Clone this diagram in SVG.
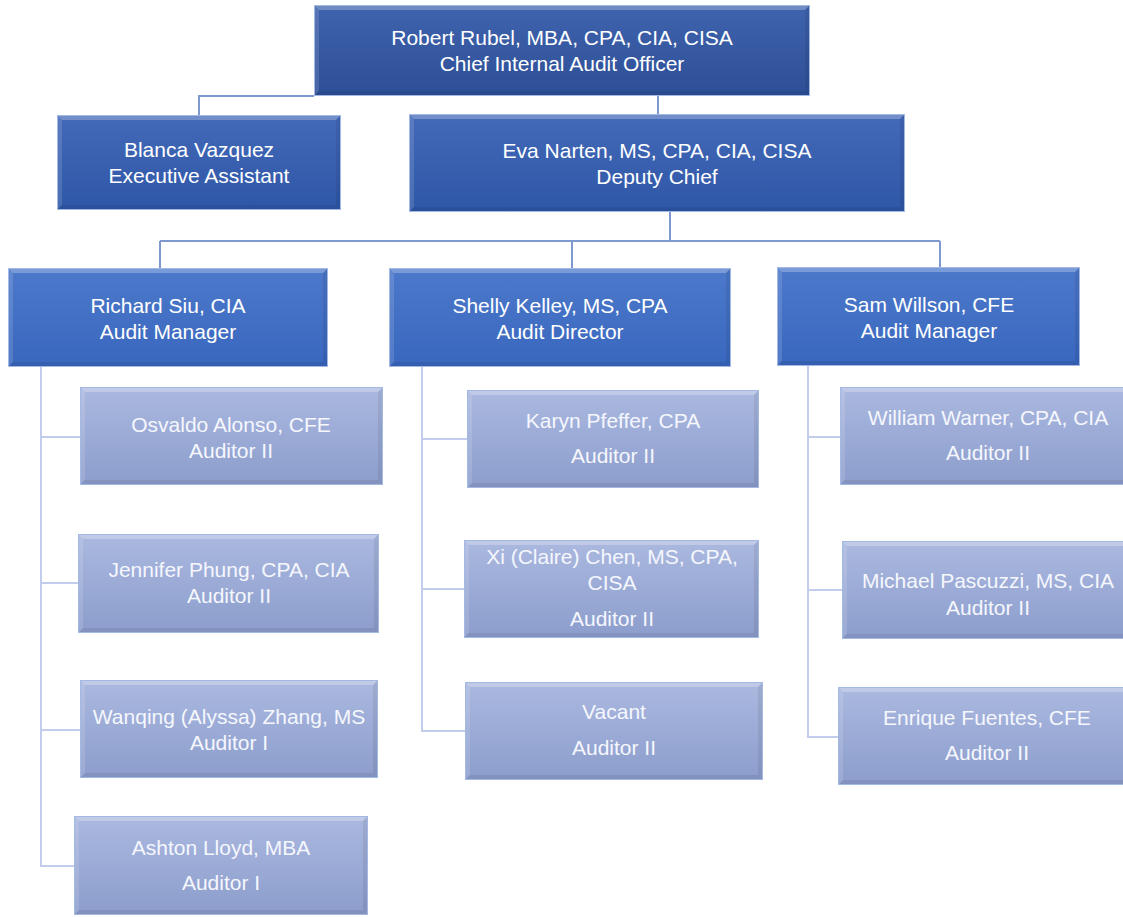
<svg xmlns="http://www.w3.org/2000/svg" width="1123" height="917" viewBox="0 0 1123 917">
<defs>
<linearGradient id="gCeo" x1="0" y1="0" x2="0" y2="1"><stop offset="0" stop-color="#4063AE"/><stop offset="1" stop-color="#2C4F96"/></linearGradient>
<linearGradient id="gEva" x1="0" y1="0" x2="0" y2="1"><stop offset="0" stop-color="#4369B8"/><stop offset="1" stop-color="#2F57A7"/></linearGradient>
<linearGradient id="gMgr" x1="0" y1="0" x2="0" y2="1"><stop offset="0" stop-color="#4C79CA"/><stop offset="1" stop-color="#3967BE"/></linearGradient>
<linearGradient id="gLight" x1="0" y1="0" x2="0" y2="1"><stop offset="0" stop-color="#ABB9E0"/><stop offset="1" stop-color="#8C9DCC"/></linearGradient>
<style>
.bt{fill:#FFFFFF;fill-opacity:0.26}
.bl{fill:#FFFFFF;fill-opacity:0.13}
.br{fill:#000000;fill-opacity:0.07}
.bb{fill:#000000;fill-opacity:0.07}
.edge{fill:none;stroke:#A4B8E4;stroke-width:1}
.ceo{fill:url(#gCeo)}
.eva{fill:url(#gEva)}
.mgr{fill:url(#gMgr)}
.lt{fill:url(#gLight)}
text{font-family:"Liberation Sans",Arial,sans-serif;font-size:21px;text-anchor:middle;fill:#FFFFFF}
.ltx{fill:#F5F7FD}
.c1{fill:none;stroke:#7F98D0;stroke-width:2}
.c2{fill:none;stroke:#C2CDEB;stroke-width:2}
</style>
</defs>
<rect width="1123" height="917" fill="#FFFFFF"/>

<g id="connectors">
<polyline class="c1" points="199,115 199,96 314,96"/>
<line class="c1" x1="658" y1="96" x2="658" y2="114"/>
<line class="c1" x1="670" y1="212" x2="670" y2="241"/>
<line class="c1" x1="160" y1="241" x2="940" y2="241"/>
<line class="c1" x1="160" y1="241" x2="160" y2="268"/>
<line class="c1" x1="572" y1="241" x2="572" y2="268"/>
<line class="c1" x1="940" y1="241" x2="940" y2="267"/>
<polyline class="c2" points="41,367 41,866 74,866"/>
<line class="c2" x1="41" y1="437" x2="80" y2="437"/>
<line class="c2" x1="41" y1="583" x2="78" y2="583"/>
<line class="c2" x1="41" y1="730" x2="80" y2="730"/>
<polyline class="c2" points="422,367 422,731 465,731"/>
<line class="c2" x1="422" y1="439" x2="467" y2="439"/>
<line class="c2" x1="422" y1="589" x2="464" y2="589"/>
<polyline class="c2" points="808,366 808,737 838,737"/>
<line class="c2" x1="808" y1="437" x2="840" y2="437"/>
<line class="c2" x1="808" y1="590" x2="842" y2="590"/>
</g>

<g id="node-rubel">
<rect class="ceo" x="314" y="5" width="496" height="91"/>
<polygon class="bt" points="314,5 810,5 805,10 319,10"/>
<polygon class="bl" points="314,5 319,10 319,91 314,96"/>
<polygon class="br" points="810,5 810,96 805,91 805,10"/>
<polygon class="bb" points="314,96 810,96 805,91 319,91"/>
<rect class="edge" x="314.5" y="5.5" width="495" height="90"/>
<text x="562" y="45">Robert Rubel, MBA, CPA, CIA, CISA</text>
<text x="562" y="71">Chief Internal Audit Officer</text>
</g>

<g id="node-vazquez">
<rect class="eva" x="57" y="115" width="284" height="95"/>
<polygon class="bt" points="57,115 341,115 336,120 62,120"/>
<polygon class="bl" points="57,115 62,120 62,205 57,210"/>
<polygon class="br" points="341,115 341,210 336,205 336,120"/>
<polygon class="bb" points="57,210 341,210 336,205 62,205"/>
<rect class="edge" x="57.5" y="115.5" width="283" height="94"/>
<text x="199" y="157">Blanca Vazquez</text>
<text x="199" y="183">Executive Assistant</text>
</g>

<g id="node-narten">
<rect class="eva" x="409" y="114" width="496" height="98"/>
<polygon class="bt" points="409,114 905,114 900,119 414,119"/>
<polygon class="bl" points="409,114 414,119 414,207 409,212"/>
<polygon class="br" points="905,114 905,212 900,207 900,119"/>
<polygon class="bb" points="409,212 905,212 900,207 414,207"/>
<rect class="edge" x="409.5" y="114.5" width="495" height="97"/>
<text x="657" y="158">Eva Narten, MS, CPA, CIA, CISA</text>
<text x="657" y="184">Deputy Chief</text>
</g>

<g id="node-siu">
<rect class="mgr" x="8" y="268" width="320" height="99"/>
<polygon class="bt" points="8,268 328,268 323,273 13,273"/>
<polygon class="bl" points="8,268 13,273 13,362 8,367"/>
<polygon class="br" points="328,268 328,367 323,362 323,273"/>
<polygon class="bb" points="8,367 328,367 323,362 13,362"/>
<rect class="edge" x="8.5" y="268.5" width="319" height="98"/>
<text x="168" y="313">Richard Siu, CIA</text>
<text x="168" y="339">Audit Manager</text>
</g>

<g id="node-kelley">
<rect class="mgr" x="389" y="268" width="342" height="99"/>
<polygon class="bt" points="389,268 731,268 726,273 394,273"/>
<polygon class="bl" points="389,268 394,273 394,362 389,367"/>
<polygon class="br" points="731,268 731,367 726,362 726,273"/>
<polygon class="bb" points="389,367 731,367 726,362 394,362"/>
<rect class="edge" x="389.5" y="268.5" width="341" height="98"/>
<text x="560" y="313">Shelly Kelley, MS, CPA</text>
<text x="560" y="339">Audit Director</text>
</g>

<g id="node-willson">
<rect class="mgr" x="777" y="267" width="303" height="99"/>
<polygon class="bt" points="777,267 1080,267 1075,272 782,272"/>
<polygon class="bl" points="777,267 782,272 782,361 777,366"/>
<polygon class="br" points="1080,267 1080,366 1075,361 1075,272"/>
<polygon class="bb" points="777,366 1080,366 1075,361 782,361"/>
<rect class="edge" x="777.5" y="267.5" width="302" height="98"/>
<text x="929" y="312">Sam Willson, CFE</text>
<text x="929" y="338">Audit Manager</text>
</g>

<g id="node-alonso">
<rect class="lt" x="80" y="387" width="303" height="98"/>
<polygon class="bt" points="80,387 383,387 378,392 85,392"/>
<polygon class="bl" points="80,387 85,392 85,480 80,485"/>
<polygon class="br" points="383,387 383,485 378,480 378,392"/>
<polygon class="bb" points="80,485 383,485 378,480 85,480"/>
<rect class="edge" x="80.5" y="387.5" width="302" height="97"/>
<text class="ltx" x="231" y="432">Osvaldo Alonso, CFE</text>
<text class="ltx" x="231" y="458">Auditor II</text>
</g>

<g id="node-phung">
<rect class="lt" x="78" y="534" width="301" height="99"/>
<polygon class="bt" points="78,534 379,534 374,539 83,539"/>
<polygon class="bl" points="78,534 83,539 83,628 78,633"/>
<polygon class="br" points="379,534 379,633 374,628 374,539"/>
<polygon class="bb" points="78,633 379,633 374,628 83,628"/>
<rect class="edge" x="78.5" y="534.5" width="300" height="98"/>
<text class="ltx" x="229" y="577">Jennifer Phung, CPA, CIA</text>
<text class="ltx" x="229" y="603">Auditor II</text>
</g>

<g id="node-zhang">
<rect class="lt" x="80" y="680" width="298" height="98"/>
<polygon class="bt" points="80,680 378,680 373,685 85,685"/>
<polygon class="bl" points="80,680 85,685 85,773 80,778"/>
<polygon class="br" points="378,680 378,778 373,773 373,685"/>
<polygon class="bb" points="80,778 378,778 373,773 85,773"/>
<rect class="edge" x="80.5" y="680.5" width="297" height="97"/>
<text class="ltx" x="229" y="724">Wanqing (Alyssa) Zhang, MS</text>
<text class="ltx" x="229" y="750">Auditor I</text>
</g>

<g id="node-lloyd">
<rect class="lt" x="74" y="816" width="294" height="99"/>
<polygon class="bt" points="74,816 368,816 363,821 79,821"/>
<polygon class="bl" points="74,816 79,821 79,910 74,915"/>
<polygon class="br" points="368,816 368,915 363,910 363,821"/>
<polygon class="bb" points="74,915 368,915 363,910 79,910"/>
<rect class="edge" x="74.5" y="816.5" width="293" height="98"/>
<text class="ltx" x="221" y="855">Ashton Lloyd, MBA</text>
<text class="ltx" x="221" y="890">Auditor I</text>
</g>

<g id="node-pfeffer">
<rect class="lt" x="467" y="390" width="292" height="98"/>
<polygon class="bt" points="467,390 759,390 754,395 472,395"/>
<polygon class="bl" points="467,390 472,395 472,483 467,488"/>
<polygon class="br" points="759,390 759,488 754,483 754,395"/>
<polygon class="bb" points="467,488 759,488 754,483 472,483"/>
<rect class="edge" x="467.5" y="390.5" width="291" height="97"/>
<text class="ltx" x="613" y="428">Karyn Pfeffer, CPA</text>
<text class="ltx" x="613" y="463">Auditor II</text>
</g>

<g id="node-chen">
<rect class="lt" x="464" y="540" width="295" height="98"/>
<polygon class="bt" points="464,540 759,540 754,545 469,545"/>
<polygon class="bl" points="464,540 469,545 469,633 464,638"/>
<polygon class="br" points="759,540 759,638 754,633 754,545"/>
<polygon class="bb" points="464,638 759,638 754,633 469,633"/>
<rect class="edge" x="464.5" y="540.5" width="294" height="97"/>
<text class="ltx" x="612" y="564">Xi (Claire) Chen, MS, CPA,</text>
<text class="ltx" x="612" y="590">CISA</text>
<text class="ltx" x="612" y="626">Auditor II</text>
</g>

<g id="node-vacant">
<rect class="lt" x="465" y="682" width="298" height="98"/>
<polygon class="bt" points="465,682 763,682 758,687 470,687"/>
<polygon class="bl" points="465,682 470,687 470,775 465,780"/>
<polygon class="br" points="763,682 763,780 758,775 758,687"/>
<polygon class="bb" points="465,780 763,780 758,775 470,775"/>
<rect class="edge" x="465.5" y="682.5" width="297" height="97"/>
<text class="ltx" x="614" y="719">Vacant</text>
<text class="ltx" x="614" y="755">Auditor II</text>
</g>

<g id="node-warner">
<rect class="lt" x="840" y="387" width="290" height="98"/>
<polygon class="bt" points="840,387 1130,387 1125,392 845,392"/>
<polygon class="bl" points="840,387 845,392 845,480 840,485"/>
<polygon class="bb" points="840,485 1130,485 1125,480 845,480"/>
<rect class="edge" x="840.5" y="387.5" width="289" height="97"/>
<text class="ltx" x="988" y="425">William Warner, CPA, CIA</text>
<text class="ltx" x="988" y="460">Auditor II</text>
</g>

<g id="node-pascuzzi">
<rect class="lt" x="842" y="541" width="288" height="98"/>
<polygon class="bt" points="842,541 1130,541 1125,546 847,546"/>
<polygon class="bl" points="842,541 847,546 847,634 842,639"/>
<polygon class="bb" points="842,639 1130,639 1125,634 847,634"/>
<rect class="edge" x="842.5" y="541.5" width="287" height="97"/>
<text class="ltx" x="988" y="588">Michael Pascuzzi, MS, CIA</text>
<text class="ltx" x="988" y="615">Auditor II</text>
</g>

<g id="node-fuentes">
<rect class="lt" x="838" y="687" width="292" height="98"/>
<polygon class="bt" points="838,687 1130,687 1125,692 843,692"/>
<polygon class="bl" points="838,687 843,692 843,780 838,785"/>
<polygon class="bb" points="838,785 1130,785 1125,780 843,780"/>
<rect class="edge" x="838.5" y="687.5" width="291" height="97"/>
<text class="ltx" x="987" y="725">Enrique Fuentes, CFE</text>
<text class="ltx" x="987" y="760">Auditor II</text>
</g>
</svg>
